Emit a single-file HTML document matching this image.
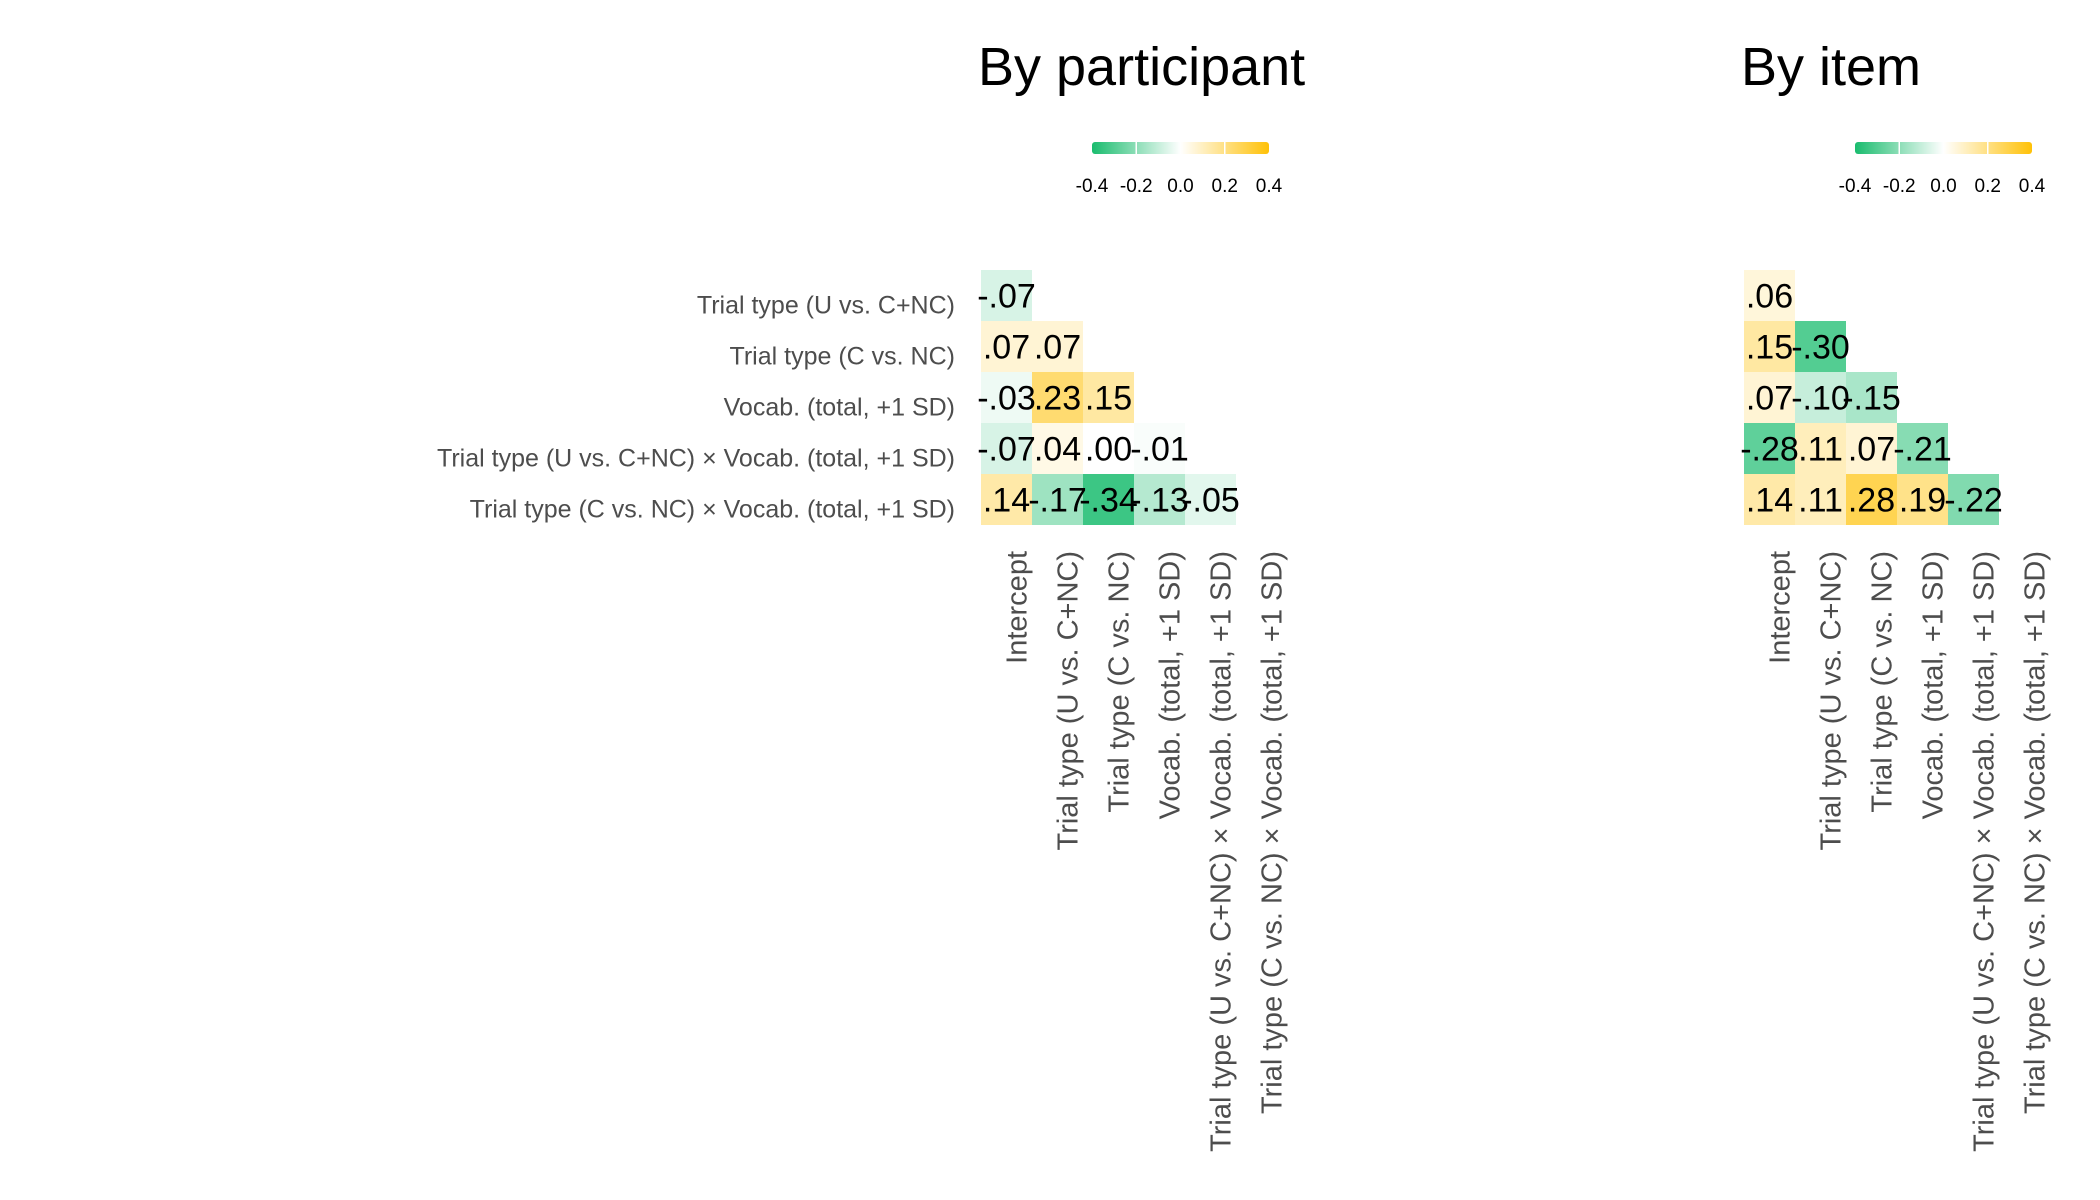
<!DOCTYPE html>
<html><head><meta charset="utf-8"><style>
html,body{margin:0;padding:0;background:#fff;}
svg{display:block;font-family:"Liberation Sans",Arial,sans-serif;}
</style></head><body>
<svg id="chart" width="2100" height="1200" viewBox="0 0 2100 1200"></svg>
<script>
const rowLabels = ["Trial type (U vs. C+NC)","Trial type (C vs. NC)","Vocab. (total, +1 SD)","Trial type (U vs. C+NC) × Vocab. (total, +1 SD)","Trial type (C vs. NC) × Vocab. (total, +1 SD)"];
const colLabels = ["Intercept","Trial type (U vs. C+NC)","Trial type (C vs. NC)","Vocab. (total, +1 SD)","Trial type (U vs. C+NC) × Vocab. (total, +1 SD)","Trial type (C vs. NC) × Vocab. (total, +1 SD)"];
const participantValues = [[-0.07],[0.07,0.07],[-0.03,0.23,0.15],[-0.07,0.04,0.00,-0.01],[0.14,-0.17,-0.34,-0.13,-0.05]];
const itemValues = [[0.06],[0.15,-0.30],[0.07,-0.10,-0.15],[-0.28,0.11,0.07,-0.21],[0.14,0.11,0.28,0.19,-0.22]];
const legendTicks = [-0.4,-0.2,0.0,0.2,0.4];
const panelTitles = ["By participant","By item"];

const NS="http://www.w3.org/2000/svg";
const svg=document.getElementById('chart');
const CELL=51, Y0=270;
function mk(tag,attrs,parent){const e=document.createElementNS(NS,tag);for(const k in attrs)e.setAttribute(k,attrs[k]);(parent||svg).appendChild(e);return e;}
function color(v){
  const t=Math.min(1,Math.abs(v)/0.4);
  const end=v<0?[26,188,110]:[255,193,7];
  const c=end.map(x=>Math.round(255-(255-x)*t));
  return `rgb(${c[0]},${c[1]},${c[2]})`;
}
function fmt(v){const s=Math.abs(v).toFixed(2).replace(/^0/,'');return (v<0?'-':'')+s;}

const panels=[{x0:981,values:participantValues,title:panelTitles[0],name:'participant',showRows:true},
              {x0:1744,values:itemValues,title:panelTitles[1],name:'item',showRows:false}];

const defs=mk('defs',{});
const grad=mk('linearGradient',{id:'lg',x1:'0',x2:'1',y1:'0',y2:'0'},defs);
[[0,color(-0.4)],[0.5,'#ffffff'],[1,color(0.4)]].forEach(s=>mk('stop',{offset:s[0],'stop-color':s[1]},grad));

panels.forEach((p,pi)=>{
  const g=mk('g',{});
  
  
  const xs=v=>p.x0+v*CELL;
  const ys=v=>Y0+v*CELL;
  const t=mk('text',{x:p.x0-3,y:85,'font-size':54,fill:'#000'},g);
  t.textContent=p.title;
  
  
  const lx=p.x0+111, lw=177, ly=142, lh=12;
  const lg=mk('g',{},g);
  
  
  const bar=mk('rect',{x:lx,y:ly,width:lw,height:lh,rx:3,fill:'url(#lg)'},lg);
  
  
  const lscale=v=>lx+(v+0.4)/0.8*lw;
  legendTicks.forEach(v=>{
    if(v>-0.4&&v<0.4&&v!==0){const tk=mk('line',{x1:lscale(v),x2:lscale(v),y1:ly,y2:ly+lh,stroke:'#fff','stroke-width':1.5},lg);
      }
    const tl=mk('text',{x:lscale(v),y:192,'font-size':19,'text-anchor':'middle',fill:'#000'},lg);
    tl.textContent=v.toFixed(1);
    
    
  });
  p.values.forEach((row,i)=>{
    row.forEach((v,j)=>{
      const r=mk('rect',{x:xs(j),y:ys(i),width:CELL,height:CELL,fill:color(v)},g);
      
      
    });
  });
  p.values.forEach((row,i)=>{
    row.forEach((v,j)=>{
      const tx=mk('text',{x:xs(j)+CELL/2,y:ys(i)+CELL/2+12,'font-size':34,'text-anchor':'middle',fill:'#000'},g);
      tx.textContent=fmt(v);
      
      
    });
  });
  if(p.showRows){
    rowLabels.forEach((l,i)=>{
      const rl=mk('text',{x:955,y:ys(i)+CELL/2+18,'font-size':25,'text-anchor':'end',fill:'#4d4d4d'},g);
      rl.textContent=l;
      
      
    });
  }
  colLabels.forEach((l,j)=>{
    const cx=xs(j)+CELL/2+20;
    const cl=mk('text',{x:cx,y:551,'font-size':29,'text-anchor':'end',fill:'#4d4d4d',transform:`rotate(-90 ${cx} 551)`},g);
    cl.textContent=l;
    
    
  });
});
</script>
</body></html>
